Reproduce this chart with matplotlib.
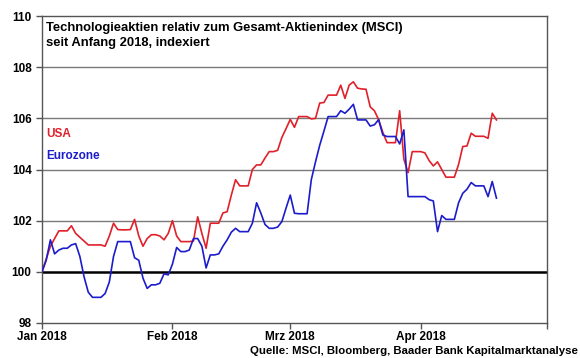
import numpy as np
import pandas as pd
import matplotlib
matplotlib.use('Agg')
import matplotlib.pyplot as plt
import matplotlib.dates as mdates

plt.rcParams['font.family'] = ['Liberation Sans', 'DejaVu Sans']
plt.rcParams['font.weight'] = 'bold'

# daily index values, Jan 1 - Apr 19 2018
dates = pd.date_range('2018-01-01', periods=109, freq='D')

usa = [
    100.0, 100.5, 101.0, 101.3, 101.6, 101.6, 101.6, 101.8, 101.5, 101.35,
    101.2, 101.05, 101.05, 101.05, 101.05, 101.0, 101.4, 101.9, 101.65, 101.64,
    101.64, 101.65, 102.05, 101.4, 101.0, 101.3, 101.45, 101.45, 101.4, 101.25,
    101.5, 102.0, 101.4, 101.18, 101.18, 101.18, 101.2, 102.15, 101.5, 100.92,
    101.9, 101.9, 101.9, 102.3, 102.35, 103.0, 103.6, 103.36, 103.36, 103.36,
    104.0, 104.18, 104.18, 104.45, 104.7, 104.7, 104.75, 105.25, 105.6, 105.96,
    105.65, 106.07, 106.07, 106.07, 105.98, 106.0, 106.6, 106.62, 106.91, 106.91,
    106.91, 107.3, 106.78, 107.3, 107.43, 107.18, 107.15, 107.14, 106.45, 106.3,
    105.95, 105.45, 105.05, 105.05, 105.05, 106.3, 104.4, 103.88, 104.7, 104.7,
    104.7, 104.65, 104.35, 104.14, 104.3, 104.0, 103.7, 103.7, 103.7, 104.2,
    104.9, 104.92, 105.42, 105.3, 105.3, 105.3, 105.22, 106.2, 105.94,
]

eurozone = [
    100.0, 100.45, 101.25, 100.7, 100.85, 100.92, 100.92, 101.05, 101.1, 100.6,
    99.8, 99.2, 99.0, 99.0, 99.0, 99.15, 99.6, 100.6, 101.18, 101.18,
    101.18, 101.18, 100.55, 100.45, 99.75, 99.35, 99.49, 99.49, 99.55, 99.92,
    99.88, 100.3, 100.95, 100.79, 100.79, 100.85, 101.3, 101.3, 101.0, 100.15,
    100.66, 100.66, 100.7, 101.0, 101.25, 101.55, 101.7, 101.57, 101.57, 101.57,
    101.9, 102.7, 102.3, 101.85, 101.7, 101.7, 101.75, 101.96, 102.49, 103.0,
    102.29, 102.27, 102.27, 102.27, 103.6, 104.3, 104.95, 105.5, 106.07, 106.07,
    106.07, 106.3, 106.2, 106.36, 106.55, 105.94, 105.94, 105.94, 105.7, 105.75,
    105.95, 105.35, 105.29, 105.29, 105.29, 105.0, 105.55, 102.94, 102.94, 102.94,
    102.94, 102.94, 102.82, 102.77, 101.57, 102.2, 102.05, 102.05, 102.05, 102.7,
    103.07, 103.23, 103.49, 103.36, 103.36, 103.36, 102.94, 103.53, 102.88,
]

month_ticks = ['2018-01-01', '2018-02-01', '2018-03-01', '2018-04-01', '2018-05-01']
month_labels = ['Jan 2018', 'Feb 2018', 'Mrz 2018', 'Apr 2018', '']
y_ticks = [98, 100, 102, 104, 106, 108, 110]

red = '#e0202a'
blue = '#1c1ccc'

fig = plt.figure(figsize=(5.8, 3.58), dpi=100)
ax = fig.add_axes([0.0724, 0.098, 0.8706, 0.857])

for y in [102, 104, 106, 108]:
    ax.axhline(y, color='#7a7a7a', lw=1.0, zorder=1)
ax.axhline(100, color='black', lw=1.8, zorder=2)

ax.plot(dates, usa, color=red, lw=1.2, zorder=3)
ax.plot(dates, eurozone, color=blue, lw=1.2, zorder=3)

ax.set_ylim(98, 110)
ax.set_yticks(y_ticks)
ax.set_xlim(pd.Timestamp('2018-01-01'), pd.Timestamp('2018-05-01'))
ax.set_xticks(pd.to_datetime(month_ticks))
ax.set_xticklabels(month_labels)
ax.tick_params(axis='both', labelsize=8.5, direction='out', length=4,
               color='#555555', width=1)
ax.tick_params(axis='x', pad=1.5)
for lab in ax.get_xticklabels() + ax.get_yticklabels():
    lab.set_fontweight('bold')
for s in ax.spines.values():
    s.set_color('#555555')
    s.set_linewidth(1.0)

ax.text(0.008, 0.98,
        'Technologieaktien relativ zum Gesamt-Aktienindex (MSCI)\nseit Anfang 2018, indexiert',
        transform=ax.transAxes, ha='left', va='top', fontsize=9.4,
        fontweight='bold', linespacing=1.35)
ax.text(0.008, 0.615, 'USA', transform=ax.transAxes, color=red,
        fontsize=8.5, fontweight='bold', va='center')
ax.text(0.008, 0.545, 'Eurozone', transform=ax.transAxes, color=blue,
        fontsize=8.5, fontweight='bold', va='center')

fig.text(0.997, 0.006, 'Quelle: MSCI, Bloomberg, Baader Bank Kapitalmarktanalyse',
         ha='right', va='bottom', fontsize=8.2, fontweight='bold')

fig.savefig('out.png', dpi=100)
